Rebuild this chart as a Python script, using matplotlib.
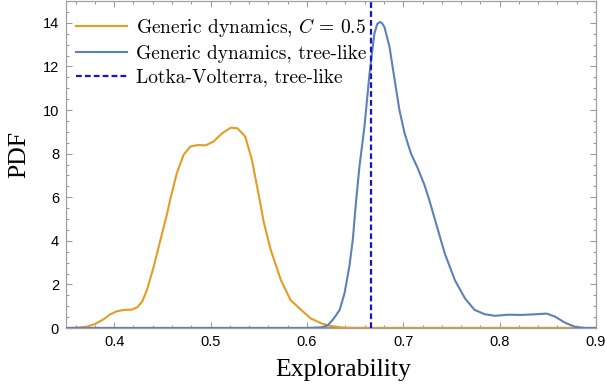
import matplotlib
matplotlib.use("Agg")
import matplotlib.pyplot as plt
from matplotlib.ticker import MultipleLocator

# Data (approximate)
x_generic_C = [0.35, 0.361, 0.3716, 0.380, 0.389, 0.396, 0.403, 0.410, 0.418, 0.424,
               0.429, 0.434, 0.441, 0.448, 0.455, 0.458, 0.465, 0.472, 0.479, 0.486,
               0.495, 0.503, 0.512, 0.521, 0.528, 0.536, 0.543, 0.550, 0.5555, 0.5625,
               0.573, 0.583, 0.594, 0.604, 0.615, 0.625, 0.639, 0.66, 0.9]
y_generic_C = [0.0, 0.01, 0.06, 0.18, 0.40, 0.63, 0.77, 0.83, 0.84, 0.95,
               1.21, 1.74, 2.81, 4.04, 5.26, 5.87, 7.1, 7.94, 8.32, 8.39,
               8.38, 8.55, 8.93, 9.19, 9.16, 8.78, 7.7, 6.1, 4.8, 3.58,
               2.2, 1.28, 0.83, 0.44, 0.21, 0.09, 0.01, 0.0, 0.0]

x_generic_tree = [0.35, 0.601, 0.615, 0.6216, 0.628, 0.634, 0.639, 0.644, 0.6476, 0.651,
                  0.6545, 0.6597, 0.665, 0.670, 0.673, 0.676, 0.678, 0.6805, 0.6857, 0.691,
                  0.696, 0.7014, 0.708, 0.715, 0.722, 0.727, 0.734, 0.743, 0.7535, 0.764,
                  0.774, 0.7847, 0.795, 0.809, 0.823, 0.837, 0.849, 0.8576, 0.868, 0.8785,
                  0.889, 0.9]
y_generic_tree = [0.0, 0.0, 0.03, 0.12, 0.44, 0.83, 1.59, 2.81, 4.04, 5.8,
                  7.4, 9.23, 11.68, 13.5, 13.95, 14.04, 13.98, 13.8, 12.9, 11.4,
                  10.0, 8.93, 8.0, 7.33, 6.56, 5.87, 4.8, 3.43, 2.2, 1.36,
                  0.83, 0.63, 0.56, 0.61, 0.6, 0.63, 0.66, 0.52, 0.24, 0.05,
                  0.0, 0.0]

lv_tree_value = 0.667

xticks = [0.4, 0.5, 0.6, 0.7, 0.8, 0.9]
yticks = [0, 2, 4, 6, 8, 10, 12, 14]

serif = ["Liberation Serif", "DejaVu Serif"]
sans = ["Liberation Sans", "DejaVu Sans"]
plt.rcParams["mathtext.fontset"] = "cm"

fig = plt.figure(figsize=(6.05, 3.91), dpi=100)
ax = fig.add_axes([66/605, 1 - 328/391, (596 - 66)/605, (328 - 1)/391])

orange = "#E39D24"
blue = "#5E81B5"
dblue = "#1414C8"

ax.plot(x_generic_C, y_generic_C, color=orange, lw=1.5,
        label=r"Generic dynamics, $C\,=\,0.5$", zorder=3, solid_joinstyle="round")
ax.plot(x_generic_tree, y_generic_tree, color=blue, lw=1.5,
        label="Generic dynamics, tree-like", zorder=3, solid_joinstyle="round")
ax.axvline(lv_tree_value, color=dblue, lw=1.6, ls=(0, (2.6, 1.4)),
           label="Lotka-Volterra, tree-like", zorder=4)
ax.axhline(0, color="#8a9099", lw=1.6, zorder=2)

ax.set_xlim(0.35, 0.9)
ax.set_ylim(0, 15)
ax.set_xticks(xticks)
ax.set_yticks(yticks)
ax.set_xticklabels([f"{v:.1f}" for v in xticks], fontfamily=sans, fontsize=10.5)
ax.set_yticklabels([str(v) for v in yticks], fontfamily=sans, fontsize=10.5)
ax.xaxis.set_minor_locator(MultipleLocator(0.02))
ax.yaxis.set_minor_locator(MultipleLocator(0.5))
ax.tick_params(which="both", direction="in", top=True, right=True,
               color="#9a9a9a", width=0.8)
ax.tick_params(which="major", length=4.5, pad=5)
ax.tick_params(which="minor", length=2.5)
for s in ax.spines.values():
    s.set_color("#a0a0a0")
    s.set_linewidth(0.9)

ax.set_xlabel("Explorability", fontfamily=serif, fontsize=18.5)
ax.set_ylabel("PDF", fontfamily=serif, fontsize=18.5)
ax.xaxis.set_label_coords(0.523, -0.095)
ax.yaxis.set_label_coords(-0.068, 0.53)

leg = ax.legend(loc="upper left", frameon=False, prop={"family": "cmr10", "size": 14},
                handlelength=2.6, handletextpad=0.45, labelspacing=0.3,
                borderaxespad=0.0, bbox_to_anchor=(0.005, 0.978))

fig.savefig("out.png", dpi=100)
